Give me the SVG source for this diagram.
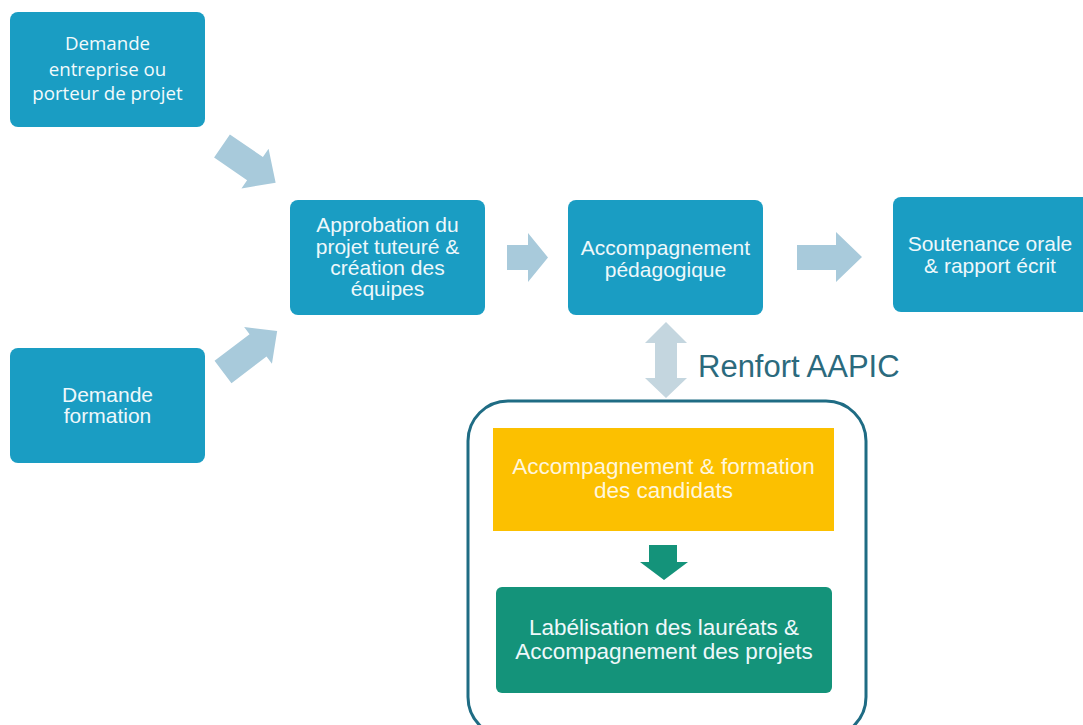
<svg xmlns="http://www.w3.org/2000/svg" width="1083" height="725" viewBox="0 0 1083 725">
<style>
.box{fill:#1a9dc3;}
.t{font-family:"Liberation Sans",Arial,sans-serif;font-size:21px;fill:#eef8fb;text-anchor:middle;}
.t1{font-family:"Open Sans","Liberation Sans",sans-serif;font-size:18.7px;fill:#f2fafc;text-anchor:middle;}
.arr{fill:#a8cadb;}
</style>
<rect width="1083" height="725" fill="#ffffff"/>
<g id="connectors">
  <path class="arr" transform="translate(222,146) rotate(34.4)" d="M0,-14 L40,-14 L40,-24 L65,0 L40,24 L40,14 L0,14 Z"/>
  <path class="arr" transform="translate(223,372) rotate(-37.2)" d="M0,-14 L44,-14 L44,-23 L68,0 L44,23 L44,14 L0,14 Z"/>
  <path class="arr" d="M507,245 L528,245 L528,233 L548,257.5 L528,282 L528,270 L507,270 Z"/>
  <path class="arr" d="M797,245 L836,245 L836,232 L862,257 L836,282 L836,270 L797,270 Z"/>
  <path fill="#c4d6df" d="M666,322 L687,343 L677,343 L677,378 L687,378 L666,398 L645,378 L655,378 L655,343 L645,343 Z"/>
  <path fill="#14937a" d="M649,545 L677,545 L677,562 L688,562 L664,580 L640,562 L649,562 Z"/>
</g>
<g id="n1">
  <rect class="box" x="10" y="12" width="195" height="115" rx="8"/>
  <text class="t1" x="107.5" y="50">Demande</text>
  <text class="t1" x="107.5" y="76">entreprise ou</text>
  <text class="t1" x="107.5" y="100">porteur de projet</text>
</g>
<g id="n2">
  <rect class="box" x="10" y="348" width="195" height="115" rx="8"/>
  <text class="t" x="107.5" y="402">Demande</text>
  <text class="t" x="107.5" y="423">formation</text>
</g>
<g id="n3">
  <rect class="box" x="290" y="200" width="195" height="115" rx="8"/>
  <text class="t" x="387.5" y="232">Approbation du</text>
  <text class="t" x="387.5" y="253.5">projet tuteuré &amp;</text>
  <text class="t" x="387.5" y="275">création des</text>
  <text class="t" x="387.5" y="296">équipes</text>
</g>
<g id="n4">
  <rect class="box" x="568" y="200" width="195" height="115" rx="8"/>
  <text class="t" x="665.5" y="255">Accompagnement</text>
  <text class="t" x="665.5" y="277">pédagogique</text>
</g>
<g id="n5">
  <rect class="box" x="893" y="197" width="200" height="115" rx="8"/>
  <text class="t" x="990" y="251">Soutenance orale</text>
  <text class="t" x="990" y="273">&amp; rapport écrit</text>
</g>
<g id="label">
  <text x="698" y="377" font-family="'Liberation Sans',Arial,sans-serif" font-size="31" fill="#2b6a7d">Renfort AAPIC</text>
</g>
<g id="n6">
  <rect x="468" y="401" width="398" height="336" rx="40" fill="none" stroke="#1f6c84" stroke-width="3"/>
</g>
<g id="n7">
  <rect x="493" y="428" width="341" height="103" fill="#fcc000"/>
  <text class="t" x="663.5" y="474" style="font-size:22.5px;fill:#fff6dc">Accompagnement &amp; formation</text>
  <text class="t" x="663.5" y="498" style="font-size:22.5px;fill:#fff6dc">des candidats</text>
</g>
<g id="n8">
  <rect x="496" y="587" width="336" height="106" rx="6" fill="#14937a"/>
  <text class="t" x="664" y="635" style="font-size:22.5px">Labélisation des lauréats &amp;</text>
  <text class="t" x="664" y="659" style="font-size:22.5px">Accompagnement des projets</text>
</g>
</svg>
